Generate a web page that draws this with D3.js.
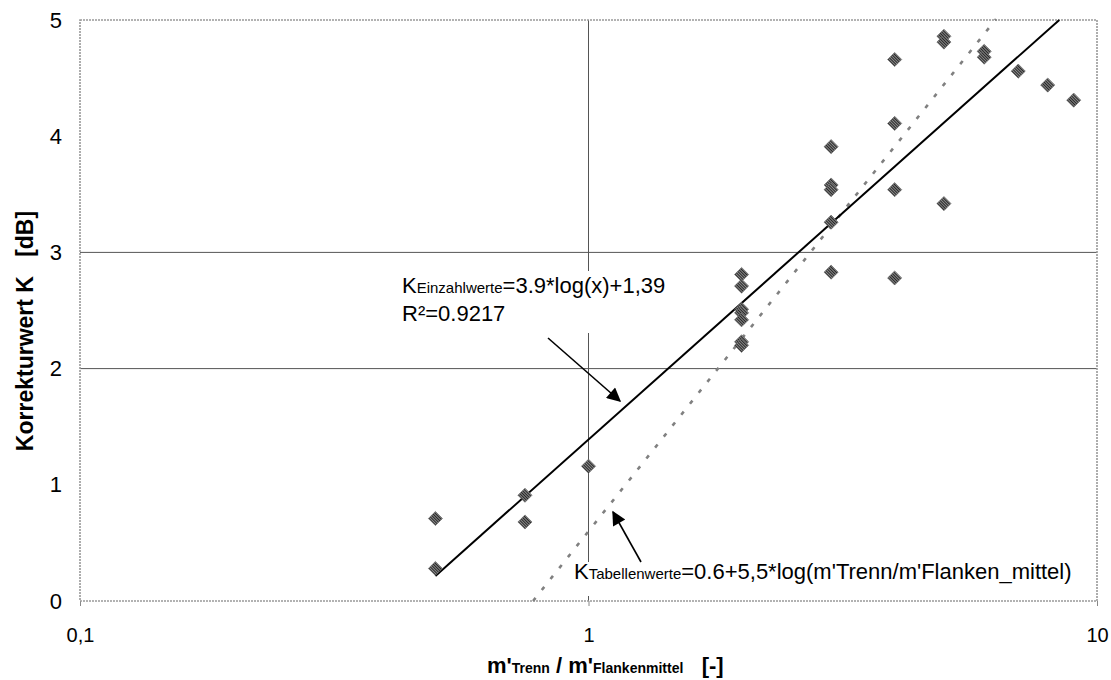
<!DOCTYPE html>
<html>
<head>
<meta charset="utf-8">
<script src="https://cdn.jsdelivr.net/npm/d3@7"></script>
<style>
  body { margin: 0; background: #fff; }
  svg text { font-family: "Liberation Sans", Arial, sans-serif; }
</style>
</head>
<body>
<div id="chart"></div>
<script>
// measured points: ratio m'Trenn / m'Flanken and correction value K [dB]
const ratioValues = [0.5, 0.5, 0.75, 0.75, 1,
  2, 2, 2, 2, 2, 2, 2,
  3, 3, 3, 3, 3,
  4, 4, 4, 4,
  5, 5, 5,
  6, 6, 7, 8, 9];
const kValues = [0.71, 0.28, 0.91, 0.68, 1.16,
  2.81, 2.71, 2.51, 2.48, 2.42, 2.23, 2.20,
  3.91, 3.58, 3.54, 3.26, 2.83,
  4.66, 4.11, 3.54, 2.78,
  4.86, 4.81, 3.42,
  4.73, 4.68, 4.56, 4.44, 4.31];

// trend lines as printed in the chart
const fitEinzahl = { a: 3.9, b: 1.39, from: 0.5, to: 8.43 };
const fitTabelle = { a: 5.5, b: 0.6, from: 0.778, to: 6.33 };

const xTicks = [0.1, 1, 10];
const xTickLabels = ["0,1", "1", "10"];
const yTicks = [0, 1, 2, 3, 4, 5];
const yGrid = [2, 3];
const xGrid = [1];

const W = 1111, H = 680;
const margin = { top: 20, right: 14, bottom: 79, left: 80 };
const width = W - margin.left - margin.right;
const height = H - margin.top - margin.bottom;

const svg = d3.select("#chart").append("svg")
  .attr("width", W).attr("height", H);

const defs = svg.append("defs");
const pat = defs.append("pattern")
  .attr("id", "hatch").attr("patternUnits", "userSpaceOnUse")
  .attr("width", 2).attr("height", 2);
pat.append("rect").attr("width", 2).attr("height", 2).attr("fill", "#262626");
pat.append("rect").attr("y", 1).attr("width", 2).attr("height", 1).attr("fill", "#8a8a8a");

defs.append("marker")
  .attr("id", "arrow").attr("viewBox", "0 0 10 10")
  .attr("refX", 9).attr("refY", 5)
  .attr("markerWidth", 16).attr("markerHeight", 14)
  .attr("markerUnits", "userSpaceOnUse")
  .attr("orient", "auto")
  .append("path").attr("d", "M0,0 L10,5 L0,10 Z").attr("fill", "#000");

const g = svg.append("g").attr("transform", `translate(${margin.left},${margin.top})`);

const x = d3.scaleLog().domain([0.1, 10]).range([0, width]);
const y = d3.scaleLinear().domain([0, 5]).range([height, 0]);

// gridlines
g.selectAll(".hgrid").data(yGrid).join("line")
  .attr("x1", 0).attr("x2", width)
  .attr("y1", d => y(d)).attr("y2", d => y(d))
  .attr("stroke", "#555").attr("stroke-width", 1);
g.selectAll(".vgrid").data(xGrid).join("line")
  .attr("x1", d => x(d)).attr("x2", d => x(d))
  .attr("y1", 0).attr("y2", height)
  .attr("stroke", "#555").attr("stroke-width", 1);

// axes
const xAxis = g.append("g")
  .attr("transform", `translate(0,${height})`)
  .call(d3.axisBottom(x).tickValues(xTicks)
    .tickFormat((d, i) => xTickLabels[i]).tickSize(5).tickPadding(22));
xAxis.select(".domain").remove();
xAxis.selectAll("line").attr("stroke", "#888");
xAxis.selectAll("text").attr("font-size", 20).attr("fill", "#000")
  .style("font-family", "'Liberation Sans', Arial, sans-serif");

const yAxis = g.append("g")
  .call(d3.axisLeft(y).tickValues(yTicks).tickFormat(d3.format("d"))
    .tickSize(0).tickPadding(18));
yAxis.select(".domain").remove();
yAxis.selectAll("text").attr("font-size", 22).attr("fill", "#000")
  .style("font-family", "'Liberation Sans', Arial, sans-serif");

// plot border
g.append("rect")
  .attr("width", width).attr("height", height)
  .attr("fill", "none").attr("stroke", "#999").attr("stroke-width", 1.6)
  .attr("stroke-dasharray", "2,1");

// white boxes behind the annotations
g.append("rect").attr("x", 395 - margin.left).attr("y", 271 - margin.top)
  .attr("width", 285).attr("height", 62).attr("fill", "#fff");
g.append("rect").attr("x", 570 - margin.left).attr("y", 562 - margin.top)
  .attr("width", 500).attr("height", 34).attr("fill", "#fff");

// trend lines
const lineGen = d3.line().x(d => x(d[0])).y(d => y(d[1]));
function fitPoints(f) {
  return [f.from, f.to].map(v => [v, f.b + f.a * Math.log10(v)]);
}
g.append("path").datum(fitPoints(fitTabelle))
  .attr("d", lineGen).attr("fill", "none")
  .attr("stroke", "#808080").attr("stroke-width", 2.6)
  .attr("stroke-dasharray", "4,10");
g.append("path").datum(fitPoints(fitEinzahl))
  .attr("d", lineGen).attr("fill", "none")
  .attr("stroke", "#000").attr("stroke-width", 2);

// points
const sym = d3.symbol().type(d3.symbolSquare).size(100);
g.selectAll(".pt").data(ratioValues.map((r, i) => [r, kValues[i]])).join("path")
  .attr("class", "pt")
  .attr("d", sym)
  .attr("transform", d => `translate(${x(d[0])},${y(d[1])}) rotate(45)`)
  .attr("fill", "url(#hatch)")
  .attr("stroke", "#666").attr("stroke-width", 0.6);

// annotations
const ann1 = svg.append("text").attr("x", 402).attr("y", 293).attr("font-size", 22);
ann1.append("tspan").text("K");
ann1.append("tspan").attr("font-size", 15).text("Einzahlwerte");
ann1.append("tspan").text("=3.9*log(x)+1,39");
svg.append("text").attr("x", 402).attr("y", 321).attr("font-size", 22).text("R²=0.9217");

const ann2 = svg.append("text").attr("x", 574).attr("y", 579).attr("font-size", 22);
ann2.append("tspan").text("K");
ann2.append("tspan").attr("font-size", 15).text("Tabellenwerte");
ann2.append("tspan").text("=0.6+5,5*log(m'Trenn/m'Flanken_mittel)");

svg.append("line").attr("x1", 548).attr("y1", 338).attr("x2", 620).attr("y2", 401)
  .attr("stroke", "#000").attr("stroke-width", 1.6).attr("marker-end", "url(#arrow)");
svg.append("line").attr("x1", 641).attr("y1", 562).attr("x2", 613).attr("y2", 512)
  .attr("stroke", "#000").attr("stroke-width", 1.6).attr("marker-end", "url(#arrow)");

// axis titles
svg.append("text")
  .attr("transform", "translate(33,331) rotate(-90)")
  .attr("text-anchor", "middle").attr("font-size", 23).attr("font-weight", "bold")
  .attr("xml:space", "preserve")
  .text("Korrekturwert K   [dB]");

const xt = svg.append("text").attr("x", 487).attr("y", 673)
  .attr("font-weight", "bold").attr("font-size", 22).attr("xml:space", "preserve");
xt.append("tspan").text("m'");
xt.append("tspan").attr("font-size", 14).text("Trenn");
xt.append("tspan").text(" / m'");
xt.append("tspan").attr("font-size", 14).text("Flankenmittel");
xt.append("tspan").text("   [-]");
</script>
</body>
</html>
